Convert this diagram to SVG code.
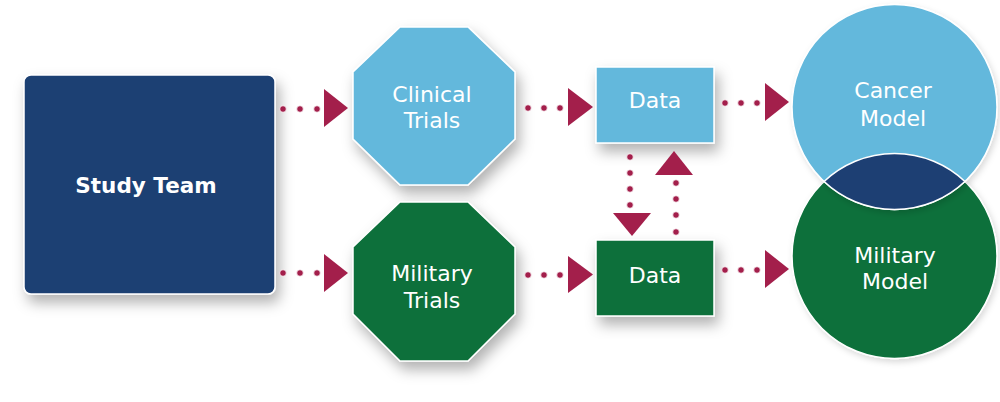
<svg xmlns="http://www.w3.org/2000/svg" width="1000" height="402" viewBox="0 0 1000 402">
<defs>
<filter id="sh" x="-20%" y="-20%" width="150%" height="150%">
<feDropShadow dx="4" dy="8" stdDeviation="7" flood-color="#000" flood-opacity="0.3"/>
</filter>
<filter id="sh2" x="-20%" y="-20%" width="150%" height="150%">
<feDropShadow dx="2" dy="3" stdDeviation="3" flood-color="#000" flood-opacity="0.15"/>
</filter>
</defs>
<style>
.lb{fill:#63B8DC;stroke:#fff;stroke-width:1.5}
.gr{fill:#0A703A;stroke:#fff;stroke-width:1.5}
.db{fill:#1D3F73;stroke:#fff;stroke-width:1.5}
.t{font-family:"DejaVu Sans","Liberation Sans",sans-serif;font-size:22px;fill:#fff;text-anchor:middle}
.tb{font-family:"DejaVu Sans","Liberation Sans",sans-serif;font-size:21.5px;font-weight:bold;fill:#fff;text-anchor:middle}
.dot circle{fill:#A31F4B;stroke:#fff;stroke-width:0.8}
.ah{fill:#A31F4B}
</style>
<rect width="1000" height="402" fill="#fff"/>

<g id="study-team">
<rect class="db" x="24" y="75" width="251" height="219" rx="7" filter="url(#sh)"/>
<text class="tb" x="146" y="193">Study Team</text>
</g>

<g id="clinical-trials">
<polygon class="lb" points="400,27 468,27 515,72 515,139 468,185 400,185 353,139 353,72" filter="url(#sh)"/>
<text class="t" x="432" y="102">Clinical</text>
<text class="t" x="432" y="128">Trials</text>
</g>

<g id="military-trials">
<polygon class="gr" points="400,202 468,202 515,247 515,314 468,361 400,361 353,314 353,247" filter="url(#sh)"/>
<text class="t" x="432" y="281">Military</text>
<text class="t" x="432" y="308">Trials</text>
</g>

<g id="data-top">
<rect class="lb" x="596" y="67" width="118" height="76" filter="url(#sh)"/>
<text class="t" x="655" y="108">Data</text>
</g>

<g id="data-bottom">
<rect class="gr" x="596" y="240" width="118" height="76" filter="url(#sh)"/>
<text class="t" x="655" y="283">Data</text>
</g>

<g id="military-model">
<circle class="gr" cx="894.5" cy="256" r="102.5" filter="url(#sh2)"/>
<text class="t" x="895" y="263">Military</text>
<text class="t" x="895" y="289">Model</text>
</g>

<g id="cancer-model">
<circle class="lb" cx="894.5" cy="107" r="102.5" filter="url(#sh2)"/>
<text class="t" x="893" y="98">Cancer</text>
<text class="t" x="893" y="126">Model</text>
</g>

<g id="overlap">
<path class="db" d="M824.1,181.5 A102.5,102.5 0 0 1 964.9,181.5 A102.5,102.5 0 0 1 824.1,181.5 Z"/>
</g>

<g id="connectors">
<g class="dot">
<circle cx="283" cy="109" r="3.3"/><circle cx="300" cy="109" r="3.3"/><circle cx="317" cy="109" r="3.3"/>
<circle cx="283" cy="273" r="3.3"/><circle cx="300" cy="273" r="3.3"/><circle cx="317" cy="273" r="3.3"/>
<circle cx="528" cy="108" r="3.3"/><circle cx="544" cy="108" r="3.3"/><circle cx="560" cy="108" r="3.3"/>
<circle cx="528" cy="275" r="3.3"/><circle cx="544" cy="275" r="3.3"/><circle cx="560" cy="275" r="3.3"/>
<circle cx="725" cy="103" r="3.3"/><circle cx="741" cy="103" r="3.3"/><circle cx="757" cy="103" r="3.3"/>
<circle cx="725" cy="270" r="3.3"/><circle cx="741" cy="270" r="3.3"/><circle cx="757" cy="270" r="3.3"/>
<circle cx="630" cy="157" r="3.3"/><circle cx="630" cy="173" r="3.3"/><circle cx="630" cy="189" r="3.3"/><circle cx="630" cy="205" r="3.3"/>
<circle cx="676" cy="183" r="3.3"/><circle cx="676" cy="199" r="3.3"/><circle cx="676" cy="215" r="3.3"/><circle cx="676" cy="232" r="3.3"/>
</g>
<polygon class="ah" points="324,89 348,108 324,127"/>
<polygon class="ah" points="324,254 348,273 324,292"/>
<polygon class="ah" points="568,88 593,107 568,126"/>
<polygon class="ah" points="568,256 593,274.5 568,293"/>
<polygon class="ah" points="765,83 789,102 765,121"/>
<polygon class="ah" points="765,250 789,269 765,288"/>
<polygon class="ah" points="613,213 651,213 632,236"/>
<polygon class="ah" points="655,175 693,175 674,151"/>
</g>
</svg>
